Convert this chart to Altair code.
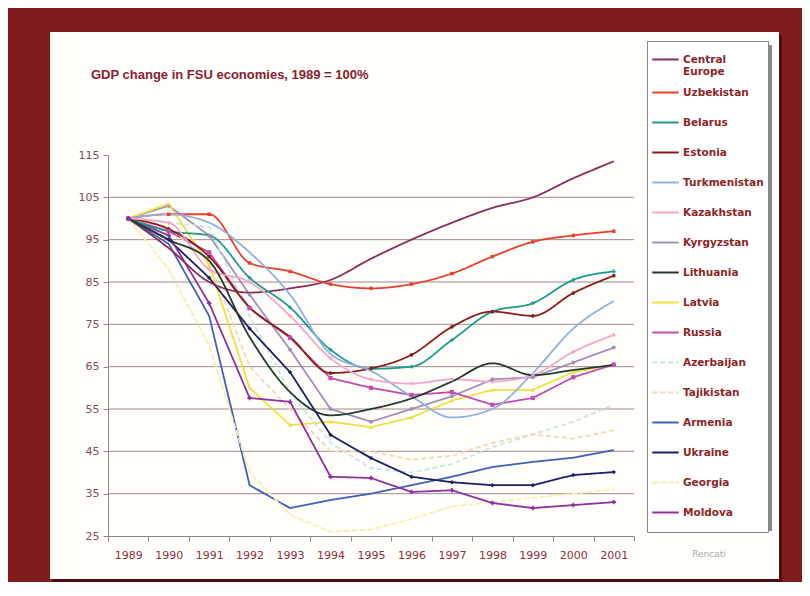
import altair as alt
import pandas as pd

years = list(range(1989, 2002))
countries = ["Central Europe", "Uzbekistan", "Belarus", "Estonia", "Turkmenistan",
             "Kazakhstan", "Kyrgyzstan", "Lithuania", "Latvia", "Russia",
             "Azerbaijan", "Tajikistan", "Armenia", "Ukraine", "Georgia", "Moldova"]
colors = ["#8a2c5c", "#e8402a", "#1a9c8c", "#8b1a1a", "#8fb0e0",
          "#f4a6c8", "#a090b8", "#1f3a2a", "#f0e040", "#c04cb0",
          "#c8e6e2", "#f2d8b8", "#4060b8", "#1c1f6a", "#f6eeb0", "#9030a0"]

central_europe = [100, 93, 85, 82.5, 83.5, 85.5, 90.5, 95, 99, 102.5, 105, 109.5, 113.5]
uzbekistan = [100, 101, 101, 89.5, 87.5, 84.5, 83.5, 84.5, 87, 91, 94.5, 96, 97]
belarus = [100, 97, 96, 86, 79, 69, 64.5, 65, 71.3, 78, 80, 85.5, 87.5]
estonia = [100, 97.5, 91, 79, 72, 63.5, 64.6, 67.8, 74.4, 78, 77, 82.4, 86.5]
turkmenistan = [100, 101, 99, 92, 82, 68, 64, 58, 53, 55, 63.5, 74, 80.5]
kazakhstan = [100, 99, 88, 85, 77, 67, 62, 61, 62, 61.5, 63, 68.5, 72.5]
kyrgyzstan = [100, 103, 96, 82, 69, 55, 52, 55, 58, 62, 62.5, 66, 69.5]
lithuania = [100, 95, 90, 72, 59, 53.5, 55, 57.5, 61.5, 65.8, 63, 64.2, 65.4]
latvia = [100, 103.5, 89, 60, 51.2, 52, 50.7, 53, 57, 59.5, 59.5, 63.7, 65.5]
russia = [100, 97, 92, 78.8, 71.8, 62.3, 60, 58.3, 59, 56, 57.6, 62.5, 65.5]
azerbaijan = [100, 99, 98, 77, 59, 47, 41, 40, 42, 46, 49, 52, 56]
tajikistan = [100, 98, 90, 65, 55, 45, 45, 43, 44, 47, 49, 48, 50]
armenia = [100, 94, 77, 37, 31.6, 33.5, 35, 37, 39, 41.3, 42.5, 43.5, 45.3]
ukraine = [100, 95, 86, 74, 63.7, 48.9, 43.4, 39, 37.7, 37, 37, 39.4, 40.1]
georgia = [100, 88, 70, 40, 30, 26, 26.5, 29, 32, 33, 34, 35, 36]
moldova = [100, 96, 80, 57.6, 56.7, 39, 38.7, 35.4, 35.8, 32.8, 31.6, 32.3, 33]

series = [central_europe, uzbekistan, belarus, estonia, turkmenistan, kazakhstan,
          kyrgyzstan, lithuania, latvia, russia, azerbaijan, tajikistan, armenia,
          ukraine, georgia, moldova]

smooth_set = ["Central Europe", "Uzbekistan", "Belarus", "Turkmenistan", "Kazakhstan",
              "Estonia", "Lithuania"]
dashes = {"Azerbaijan": [5, 3], "Tajikistan": [5, 3], "Georgia": [6, 2]}
marker_countries = ["Uzbekistan", "Belarus", "Estonia", "Kazakhstan", "Kyrgyzstan",
                    "Latvia", "Russia", "Ukraine", "Moldova"]
marker_shapes = ["square", "cross", "circle", "cross", "circle",
                 "triangle-up", "square", "diamond", "cross"]
marker_sizes = [12, 20, 28, 16, 18, 40, 80, 45, 40]

grid_values = [35, 45, 55, 65, 75, 85, 95, 105]
tick_values = [25, 35, 45, 55, 65, 75, 85, 95, 105, 115]

title_text = "GDP change in FSU economies, 1989 = 100%"
source_text = "Rencati"

rows = []
for c, vals in zip(countries, series):
    for y, v in zip(years, vals):
        rows.append({"country": c, "year": y, "value": v})
df = pd.DataFrame(rows)

x_scale = alt.Scale(type="band", paddingInner=0, paddingOuter=0)
x_axis = alt.Axis(title=None, labelAngle=0, labelAlign="center", tickBand="extent",
                  labelFont="DejaVu Sans", labelFontSize=11,
                  labelColor="#8b3040", domainColor="#888888",
                  tickColor="#888888", tickSize=5, labelPadding=8,
                  grid=False, zindex=1)
y_scale = alt.Scale(domain=[25, 115], nice=False, zero=False)
y_axis = alt.Axis(title=None, values=tick_values, grid=False,
                  labelFont="DejaVu Sans", labelFontSize=11,
                  labelColor="#7a5060", domainColor="#888888",
                  tickColor="#888888", tickSize=5, labelPadding=4, zindex=1)

x_enc = alt.X("year:O", scale=x_scale, axis=x_axis)
y_enc = alt.Y("value:Q", scale=y_scale, axis=y_axis)

color_scale = alt.Scale(domain=countries, range=colors)
dash_scale = alt.Scale(domain=countries,
                       range=[dashes.get(c, [1, 0]) for c in countries])

one = pd.DataFrame({"k": [0]})

panel_shadow = alt.Chart(one).mark_rect(color="#4a1010").encode(
    x=alt.value(-55), x2=alt.value(674), y=alt.value(-120), y2=alt.value(427))
panel = alt.Chart(one).mark_rect(color="#fffefa").encode(
    x=alt.value(-58), x2=alt.value(671), y=alt.value(-123), y2=alt.value(424))

grid = alt.Chart(pd.DataFrame({"g": grid_values})).mark_rule(
    color="#a08a8a", strokeWidth=1).encode(
    y=alt.Y("g:Q", scale=y_scale, axis=y_axis))

legend = alt.Legend(orient="none", legendX=539, legendY=-114, title=None,
                    symbolType="stroke", symbolSize=700, symbolStrokeWidth=2,
                    labelFont="DejaVu Sans", labelFontWeight="bold", labelFontSize=10.5,
                    labelColor="#8b2525", fillColor="white", strokeColor="#888888",
                    padding=4, rowPadding=0, clipHeight=29.1, labelLimit=200,
                    labelOffset=3,
                    labelExpr="datum.label == 'Central Europe' ? ['Central', 'Europe'] : datum.label")

lines_smooth = alt.Chart(df[df.country.isin(smooth_set)]).mark_line(
    interpolate="monotone", strokeWidth=1.8).encode(
    x=x_enc, y=y_enc,
    color=alt.Color("country:N", scale=color_scale, legend=legend),
    strokeDash=alt.StrokeDash("country:N", scale=dash_scale, legend=None),
    order="year:O")

lines_straight = alt.Chart(df[~df.country.isin(smooth_set)]).mark_line(
    strokeWidth=1.8).encode(
    x=x_enc, y=y_enc,
    color=alt.Color("country:N", scale=color_scale, legend=None),
    strokeDash=alt.StrokeDash("country:N", scale=dash_scale, legend=None),
    order="year:O")

points = alt.Chart(df[df.country.isin(marker_countries)]).mark_point(
    filled=True, opacity=1).encode(
    x=x_enc, y=y_enc,
    color=alt.Color("country:N", scale=color_scale, legend=None),
    shape=alt.Shape("country:N", scale=alt.Scale(domain=marker_countries, range=marker_shapes), legend=None),
    size=alt.Size("country:N", scale=alt.Scale(domain=marker_countries, range=marker_sizes), legend=None))

legend_shadow = alt.Chart(one).mark_rect(color="#8a8a8a").encode(
    x=alt.value(543), x2=alt.value(664), y=alt.value(-110), y2=alt.value(376))

title = alt.Chart(pd.DataFrame({"t": [title_text]})).mark_text(
    font="Liberation Sans", fontWeight="bold", fontSize=13, color="#8a2030",
    align="left", baseline="middle").encode(
    text="t:N", x=alt.value(-17), y=alt.value(-80))

source = alt.Chart(pd.DataFrame({"t": [source_text]})).mark_text(
    font="DejaVu Sans", fontSize=9, color="#a8a8a8",
    align="center", baseline="middle").encode(
    text="t:N", x=alt.value(601), y=alt.value(399))

chart = alt.layer(
    panel_shadow, panel, grid, legend_shadow, lines_straight, lines_smooth, points, title, source
).resolve_legend(color="independent", shape="independent", size="independent",
                 strokeDash="independent").properties(
    width=526, height=381,
    autosize="none",
    padding={"left": 100, "top": 147, "right": 168, "bottom": 46},
).configure(background="#821c1c").configure_view(stroke=None)

chart.save("out.html", embed_options={"renderer": "svg", "actions": False})
